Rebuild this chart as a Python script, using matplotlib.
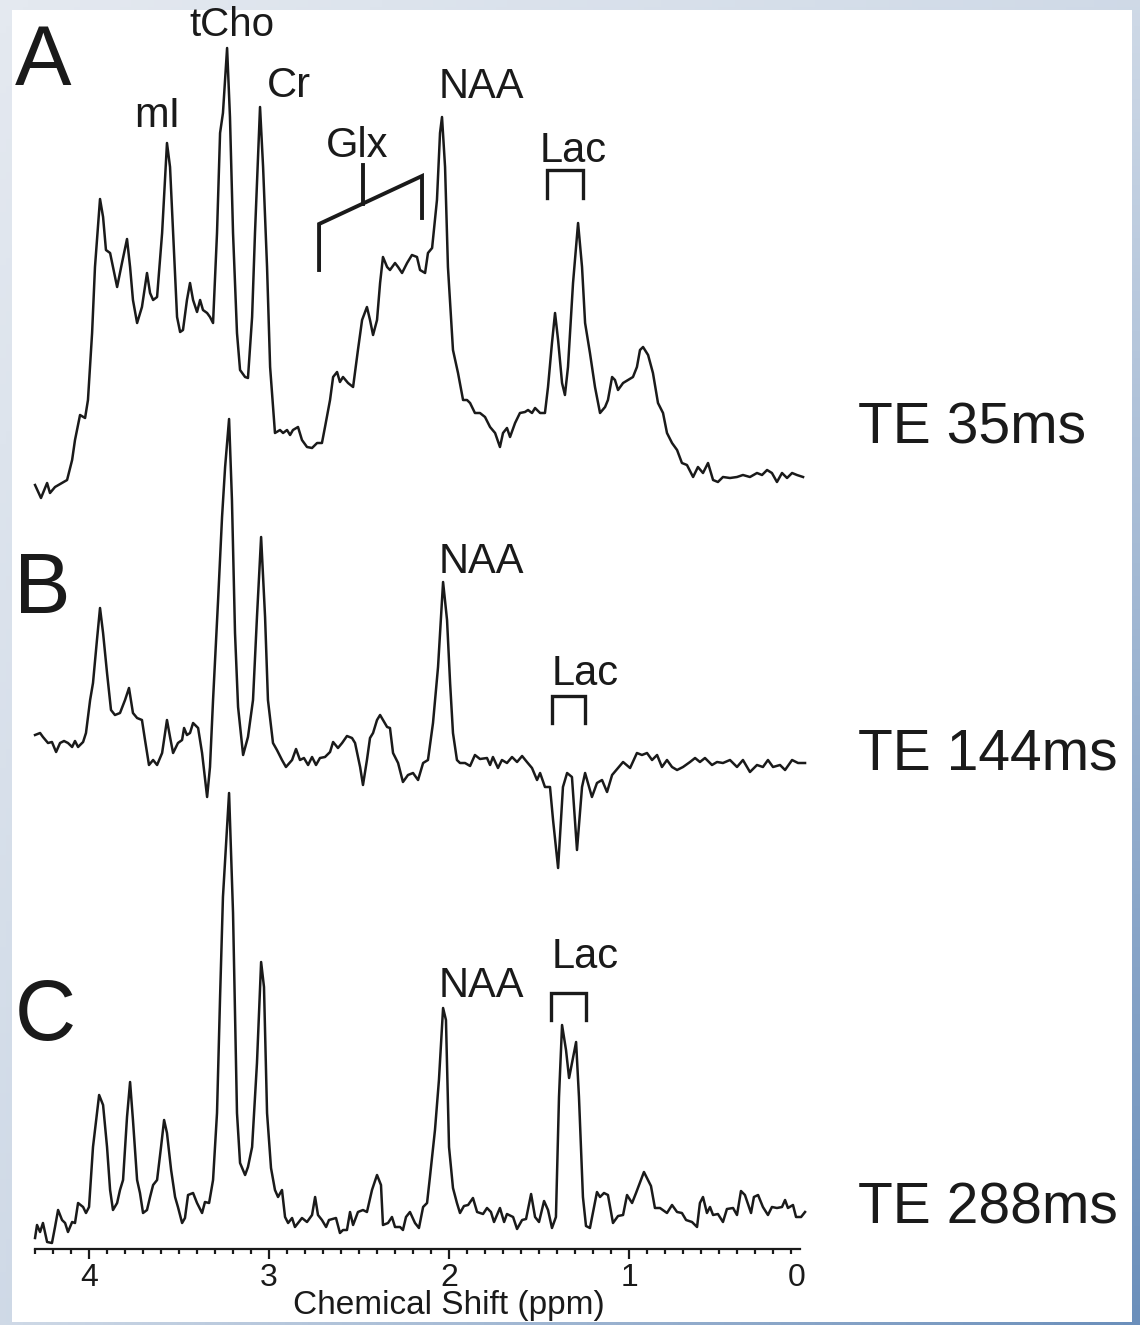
import numpy as np
import matplotlib.pyplot as plt
from matplotlib.colors import LinearSegmentedColormap
from matplotlib.patches import Rectangle

plt.rcParams['font.family'] = ['Liberation Sans', 'DejaVu Sans']

# spectrum A - TE 35 ms (ppm, amplitude above own baseline, a.u.)
ppm_a = [4.300, 4.267, 4.233, 4.217, 4.189, 4.122, 4.094, 4.078, 4.050, 4.022,
         4.006, 3.983, 3.967, 3.939, 3.922, 3.906, 3.883, 3.867, 3.844, 3.817,
         3.789, 3.772, 3.756, 3.733, 3.706, 3.678, 3.661, 3.644, 3.622, 3.594,
         3.567, 3.550, 3.533, 3.511, 3.494, 3.478, 3.456, 3.439, 3.422, 3.400,
         3.383, 3.367, 3.344, 3.328, 3.311, 3.289, 3.272, 3.256, 3.233, 3.217,
         3.200, 3.178, 3.161, 3.133, 3.117, 3.094, 3.078, 3.050, 3.033, 3.011,
         2.994, 2.967, 2.939, 2.922, 2.900, 2.883, 2.867, 2.839, 2.817, 2.789,
         2.761, 2.733, 2.706, 2.689, 2.661, 2.644, 2.622, 2.606, 2.589, 2.561,
         2.533, 2.506, 2.483, 2.456, 2.439, 2.422, 2.400, 2.383, 2.367, 2.344,
         2.328, 2.300, 2.283, 2.261, 2.233, 2.206, 2.178, 2.161, 2.133, 2.117,
         2.094, 2.067, 2.050, 2.039, 2.022, 2.006, 1.978, 1.950, 1.922, 1.900,
         1.883, 1.856, 1.828, 1.800, 1.772, 1.744, 1.717, 1.700, 1.678, 1.661,
         1.633, 1.606, 1.578, 1.561, 1.539, 1.522, 1.494, 1.467, 1.450, 1.428,
         1.411, 1.394, 1.372, 1.356, 1.339, 1.311, 1.283, 1.261, 1.244, 1.217,
         1.189, 1.161, 1.133, 1.117, 1.094, 1.078, 1.061, 1.033, 1.006, 0.978,
         0.956, 0.939, 0.922, 0.894, 0.867, 0.839, 0.811, 0.789, 0.761, 0.733,
         0.706, 0.678, 0.644, 0.617, 0.589, 0.561, 0.533, 0.506, 0.478, 0.439,
         0.400, 0.367, 0.328, 0.289, 0.261, 0.233, 0.206, 0.178, 0.150, 0.122,
         0.094, 0.067, 0.033]
amp_a = [-7, -20, -5, -15, -9, -2, 18, 38, 63, 60,
         78, 145, 211, 279, 261, 228, 225, 211, 191, 215,
         239, 211, 178, 155, 171, 205, 185, 178, 181, 245,
         335, 311, 245, 161, 146, 148, 178, 195, 178, 166,
         178, 168, 165, 161, 155, 245, 345, 365, 430, 361,
         245, 145, 108, 101, 100, 161, 245, 371, 311, 211,
         111, 45, 48, 45, 48, 43, 48, 51, 38, 31,
         30, 35, 35, 51, 78, 101, 106, 96, 101, 95,
         91, 128, 158, 171, 158, 143, 158, 195, 221, 211,
         208, 215, 211, 205, 215, 223, 221, 208, 205, 225,
         230, 278, 345, 361, 311, 211, 128, 105, 78, 78,
         75, 65, 65, 61, 51, 45, 31, 45, 50, 41,
         55, 65, 66, 68, 65, 70, 65, 65, 91, 135,
         165, 138, 95, 83, 111, 195, 255, 211, 155, 125,
         91, 65, 71, 78, 101, 98, 88, 95, 98, 101,
         111, 128, 131, 123, 105, 75, 65, 45, 35, 28,
         15, 13, 1, 11, 5, 15, -2, -4, 1, 0,
         1, 3, 1, 5, 3, 8, 5, -4, 5, 0,
         5, 3, 1]

# spectrum B - TE 144 ms
ppm_b = [4.300, 4.272, 4.256, 4.228, 4.206, 4.183, 4.161, 4.139, 4.117, 4.094,
         4.078, 4.061, 4.033, 4.017, 3.994, 3.978, 3.956, 3.939, 3.922, 3.900,
         3.878, 3.856, 3.828, 3.800, 3.778, 3.756, 3.733, 3.706, 3.689, 3.667,
         3.644, 3.622, 3.594, 3.567, 3.550, 3.533, 3.506, 3.483, 3.472, 3.456,
         3.439, 3.422, 3.394, 3.372, 3.344, 3.328, 3.311, 3.283, 3.261, 3.244,
         3.222, 3.206, 3.189, 3.172, 3.144, 3.117, 3.089, 3.067, 3.044, 3.022,
         3.006, 2.978, 2.956, 2.928, 2.906, 2.872, 2.850, 2.828, 2.806, 2.783,
         2.761, 2.739, 2.717, 2.689, 2.661, 2.644, 2.617, 2.594, 2.567, 2.539,
         2.522, 2.494, 2.478, 2.456, 2.439, 2.422, 2.400, 2.383, 2.367, 2.344,
         2.328, 2.311, 2.283, 2.256, 2.228, 2.200, 2.172, 2.144, 2.117, 2.089,
         2.061, 2.033, 2.011, 1.994, 1.978, 1.956, 1.939, 1.911, 1.883, 1.856,
         1.828, 1.789, 1.772, 1.756, 1.728, 1.706, 1.678, 1.650, 1.622, 1.594,
         1.567, 1.539, 1.511, 1.494, 1.467, 1.439, 1.422, 1.394, 1.367, 1.344,
         1.317, 1.289, 1.261, 1.244, 1.206, 1.178, 1.150, 1.122, 1.094, 1.061,
         1.033, 0.994, 0.956, 0.928, 0.900, 0.872, 0.844, 0.817, 0.789, 0.761,
         0.733, 0.700, 0.661, 0.633, 0.606, 0.578, 0.539, 0.511, 0.478, 0.439,
         0.400, 0.367, 0.328, 0.289, 0.256, 0.228, 0.200, 0.161, 0.133, 0.094,
         0.061, 0.022]
amp_b = [28, 30, 26, 20, 21, 11, 20, 22, 20, 16,
         22, 16, 21, 30, 63, 80, 123, 155, 130, 90,
         53, 48, 50, 63, 75, 50, 45, 43, 23, -2,
         3, -2, 10, 43, 26, 10, 20, 23, 35, 28,
         30, 40, 35, 10, -34, -4, 63, 163, 246, 296,
         344, 263, 130, 56, 8, 26, 63, 146, 226, 146,
         63, 20, 13, 3, -4, 3, 14, 3, 5, -2,
         6, -2, 5, 6, 11, 21, 15, 20, 27, 25,
         20, -4, -22, 3, 25, 30, 43, 48, 43, 36,
         35, 10, 0, -19, -12, -10, -17, 0, 3, 40,
         96, 181, 143, 80, 30, 3, 0, 0, -3, 8,
         4, 5, -2, 6, -5, 3, 0, 6, 1, 7,
         1, -5, -17, -10, -24, -24, -57, -105, -24, -10,
         -14, -87, -24, -10, -34, -20, -17, -29, -12, -5,
         1, -5, 10, 8, 10, 3, 8, -4, 3, -4,
         -7, -4, 1, 5, 1, 5, -2, 1, 0, 3,
         -4, 3, -9, -2, -4, 3, -4, -2, -7, 3,
         0, 0]

# spectrum C - TE 288 ms
ppm_c = [4.300, 4.289, 4.272, 4.256, 4.233, 4.206, 4.189, 4.172, 4.150, 4.133,
         4.117, 4.094, 4.078, 4.061, 4.033, 4.017, 4.000, 3.978, 3.944, 3.922,
         3.900, 3.883, 3.867, 3.844, 3.828, 3.811, 3.789, 3.772, 3.756, 3.733,
         3.717, 3.700, 3.678, 3.661, 3.644, 3.622, 3.600, 3.583, 3.567, 3.544,
         3.522, 3.506, 3.483, 3.467, 3.450, 3.422, 3.400, 3.372, 3.356, 3.333,
         3.311, 3.289, 3.272, 3.256, 3.222, 3.200, 3.178, 3.161, 3.133, 3.117,
         3.094, 3.067, 3.044, 3.028, 3.011, 2.989, 2.967, 2.950, 2.928, 2.911,
         2.894, 2.872, 2.856, 2.839, 2.817, 2.789, 2.761, 2.744, 2.728, 2.706,
         2.683, 2.667, 2.628, 2.606, 2.589, 2.567, 2.550, 2.533, 2.506, 2.478,
         2.456, 2.428, 2.400, 2.378, 2.367, 2.339, 2.317, 2.300, 2.272, 2.256,
         2.239, 2.217, 2.189, 2.167, 2.144, 2.122, 2.106, 2.078, 2.056, 2.033,
         2.017, 2.000, 1.978, 1.956, 1.939, 1.917, 1.894, 1.867, 1.844, 1.811,
         1.789, 1.767, 1.750, 1.717, 1.694, 1.678, 1.644, 1.622, 1.594, 1.572,
         1.544, 1.522, 1.500, 1.472, 1.450, 1.428, 1.406, 1.389, 1.372, 1.350,
         1.333, 1.294, 1.278, 1.256, 1.239, 1.217, 1.178, 1.161, 1.139, 1.117,
         1.089, 1.061, 1.033, 1.011, 0.983, 0.961, 0.917, 0.878, 0.856, 0.828,
         0.789, 0.761, 0.733, 0.706, 0.683, 0.650, 0.622, 0.606, 0.589, 0.567,
         0.550, 0.533, 0.506, 0.478, 0.456, 0.422, 0.400, 0.378, 0.356, 0.322,
         0.306, 0.283, 0.256, 0.228, 0.206, 0.178, 0.150, 0.133, 0.117, 0.089,
         0.072, 0.044, 0.022]
amp_c = [-23, -10, -17, -8, -27, -28, -12, 5, -5, -8,
         -17, -7, -8, 12, 8, 2, 8, 68, 120, 110,
         68, 25, 5, 12, 25, 35, 98, 133, 95, 35,
         22, 2, 5, 18, 30, 35, 68, 95, 82, 45,
         18, 8, -8, -3, 20, 22, 12, 2, 13, 12,
         35, 102, 218, 318, 422, 302, 102, 52, 40, 48,
         68, 152, 253, 228, 102, 47, 25, 18, 25, -2,
         -8, -3, -12, -8, -3, -7, 0, 18, 0, -5,
         -12, -5, -3, -18, -15, -15, 3, -10, 3, 5,
         3, 25, 40, 30, -10, -8, -2, -12, -12, -15,
         -2, 3, -8, -13, 8, 12, 38, 85, 135, 207,
         195, 68, 27, 12, 2, 9, 10, 17, 3, 1,
         7, 3, -7, 7, -7, 1, -2, -14, -5, -4,
         21, -2, -7, 14, 5, -13, -2, 118, 190, 165,
         137, 173, 118, 18, -11, -13, 23, 18, 22, 20,
         -8, -1, 0, 20, 12, 22, 43, 29, 7, 7,
         2, 10, 3, 2, -5, -7, -12, 12, 18, 2,
         8, 0, 1, -7, 6, 7, 0, 24, 20, 2,
         18, 20, 8, 0, 8, 7, 8, 15, 7, 10,
         -2, -2, 3]

# stacking offsets of the three spectra
offset_a, offset_b, offset_c = 771, 486, 34

te_labels = ['TE 35ms', 'TE 144ms', 'TE 288ms']
panel_letters = ['A', 'B', 'C']

# bracket positions (ppm)
glx_span = (2.722, 2.150)
glx_mid = 2.478
lac_span = (1.44, 1.25)

ink = '#1a1a1a'
W, H = 1140, 1325
fig = plt.figure(figsize=(W / 100, H / 100), dpi=100)

# bluish frame with white page
bg = fig.add_axes([0, 0, 1, 1], zorder=0)
gx, gy = np.meshgrid(np.linspace(0, 1, 200), np.linspace(0, 1, 200))
shade = 0.35 * (gx + gy) / 2 + 0.65 * gx * gy
frame_cmap = LinearSegmentedColormap.from_list('frame', ['#e4e9f0', '#6b8fbb'])
bg.imshow(shade, cmap=frame_cmap, extent=(0, 1, 0, 1), origin='upper', aspect='auto')
bg.add_patch(Rectangle((12 / W, 3 / H), 1120 / W, 1312 / H, facecolor='white', edgecolor='none'))
bg.set_xlim(0, 1)
bg.set_ylim(0, 1)
bg.axis('off')

ax = fig.add_axes([30 / W, 76 / H, 779 / W, 1249 / H], zorder=1)
ax.set_facecolor('none')
ax.set_xlim(4.328, 0)
ax.set_ylim(0, 1249)

ax.plot(ppm_a, np.array(amp_a) + offset_a, color=ink, lw=1.8)
ax.plot(ppm_b, np.array(amp_b) + offset_b, color=ink, lw=1.8)
ax.plot(ppm_c, np.array(amp_c) + offset_c, color=ink, lw=1.8)

# axis
for s in ['top', 'left', 'right']:
    ax.spines[s].set_visible(False)
ax.spines['bottom'].set_bounds(0.05, 4.3)
ax.spines['bottom'].set_linewidth(1.6)
ax.spines['bottom'].set_color(ink)
ax.set_yticks([])
ax.set_xticks([4, 3, 2, 1, 0.067])
ax.set_xticklabels(['4', '3', '2', '1', '0'])
ax.set_xticks([v / 10 for v in range(1, 44) if v % 10], minor=True)
ax.tick_params(axis='x', which='major', direction='out', length=7, width=1.6,
               labelsize=23, pad=3, colors=ink)
ax.tick_params(axis='x', which='minor', direction='out', length=3.5, width=1.6, colors=ink)
ax.xaxis.get_major_ticks()[-1].tick1line.set_visible(False)
ax.set_xlabel('Chemical Shift (ppm)', fontsize=24, color=ink)
ax.xaxis.set_label_coords(0.538, -0.033)

# panel letters and TE labels
for letter, x, y in zip(panel_letters, [4.256, 4.261, 4.244], [1164, 636, 209]):
    ax.text(x, y, letter, fontsize=61, ha='center', va='baseline', color=ink)
for lab, y in zip(te_labels, [806, 479, 26]):
    ax.text(-0.272, y, lab, fontsize=41, ha='left', va='baseline', color=ink)

# metabolite labels
ax.text(3.206, 1213, 'tCho', fontsize=29, ha='center', va='baseline', color=ink)
ax.text(3.622, 1122, 'mI', fontsize=30, ha='center', va='baseline', color=ink)
ax.text(2.889, 1152, 'Cr', fontsize=30, ha='center', va='baseline', color=ink)
ax.text(2.511, 1092, 'Glx', fontsize=30, ha='center', va='baseline', color=ink)
for y in [1151, 676, 252]:
    ax.text(1.82, y, 'NAA', fontsize=30, ha='center', va='baseline', color=ink)
for x, y in zip([1.311, 1.244, 1.244], [1087, 564, 281]):
    ax.text(x, y, 'Lac', fontsize=30, ha='center', va='baseline', color=ink)

# Glx bracket
ax.plot([glx_span[0], glx_span[0], glx_span[1], glx_span[1]], [979, 1025, 1073, 1031],
        color=ink, lw=2.8, solid_joinstyle='miter')
mid_low = np.interp(glx_mid, [glx_span[1], glx_span[0]], [1073, 1025])
ax.plot([glx_mid, glx_mid], [mid_low, 1084], color=ink, lw=2.8)

# Lac brackets
lac_x = [[1.456, 1.256], [1.428, 1.244], [1.433, 1.239]]
lac_y = [(1051, 1079), (526, 553), (229, 256)]
for (x1, x2), (lo, hi) in zip(lac_x, lac_y):
    ax.plot([x1, x1, x2, x2], [lo, hi, hi, lo], color=ink, lw=2.4, solid_joinstyle='miter')

fig.savefig('out.png', dpi=100)
